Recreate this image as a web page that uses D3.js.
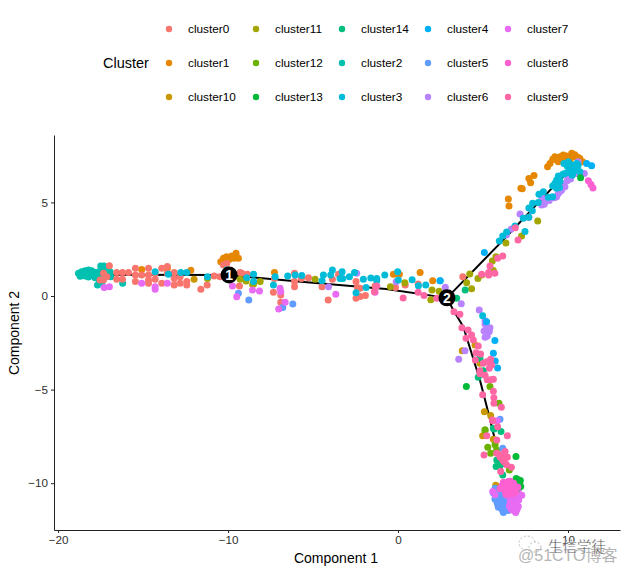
<!DOCTYPE html>
<html lang="en">
<head>
  <meta charset="UTF-8">
  <title>Cell trajectory</title>
  <style>
    body { margin: 0; background: #fff; }
    svg { display: block; font-family: "Liberation Sans", Arial, sans-serif; }
    .tick text { font-size: 11.7px; fill: #303030; font-family: "Liberation Sans", Arial, sans-serif; }
    .axis path, .axis line { stroke: #222; stroke-width: 1; }
  </style>
  <script src="https://d3js.org/d3.v7.min.js"></script>
</head>
<body>
  <svg width="627" height="573"></svg>
  <script>
    const clusterNames = ["cluster0", "cluster1", "cluster10", "cluster11", "cluster12", "cluster13", "cluster14", "cluster2", "cluster3", "cluster4", "cluster5", "cluster6", "cluster7", "cluster8", "cluster9"];
    const clusterColors = ["#F8766D", "#E58700", "#C99800", "#A3A500", "#6BB100", "#00BA38", "#00BF7D", "#00C0AF", "#00BCD8", "#00B0F6", "#619CFF", "#B983FF", "#E76BF3", "#FD61D1", "#FF67A4"];

    const xTicks = [-20, -10, 0, 10];
    const yTicks = [-10, -5, 0, 5];

    // in plot units
    const cluster0 = [[-16.98,1.62],[-16.55,1.25],[-16.55,0.89],[-16.21,1.25],[-16.21,0.89],[-15.86,1.25],[-15.45,1.48],[-15.45,1.12],[-15.45,0.77],[-15.08,1.12],[-14.68,1.48],[-14.68,1.12],[-14.68,0.85],[-14.29,1.21],[-14.29,0.89],[-13.9,1.48],[-13.9,0.68],[-13.57,1.57],[-13.57,1.21],[-13.17,1.25],[-13.17,0.94],[-13.17,0.59],[-12.82,1.03],[-12.82,0.68],[-12.43,0.77],[-12.43,0.59],[-14.68,0.68],[-11.6,0.36],[-11.23,0.59],[-10.82,1.07],[-10.47,1.03],[-10.27,1.66],[-10.08,1.74],[-9.29,1.25],[-9.33,0.53],[-17.33,1.21],[-17.53,0.85],[-17.33,0.85],[-17.13,1.03],[-9.19,1.21],[-8.86,1.16],[-7.27,0.94],[-7.33,0.2],[-6.9,0.05],[-6.9,-0.34],[-6.09,1.21],[-6.09,0.77],[-6.09,0.5],[-5.68,0.94],[-5.27,0.98],[-4.47,0.5],[-4.11,-0.21],[-3.86,0.89],[-3.5,1.16],[-2.47,0.77],[-2.39,0.46],[-2.23,0.41],[-2.47,-0.12],[-2.23,-0.03],[-1.92,0.02],[-1.35,0.53],[-0.15,0.46],[0.42,0.59],[1.18,0.64],[3.81,1.03]];
    const cluster1 = [[-15.08,1.42],[-13.57,1.48],[-12.19,1.37],[-10.43,1.83],[-10.27,2.01],[-10.08,2.1],[-9.78,2.14],[-9.53,2.28],[-9.39,2.01],[-9.65,2.01],[-9.92,1.96],[-10.17,1.83],[-7.27,1.26],[-0.27,1.16],[-0.07,1.19],[0.08,1.16],[1.3,1.26],[2.04,0.82],[8.0,6.43],[7.7,6.27],[7.8,6.05],[7.23,5.75],[7.31,5.73],[6.49,5.18],[6.53,4.81],[8.8,6.91],[8.94,7.08],[9.23,7.44],[9.33,7.26],[9.53,7.44],[9.72,7.53],[9.92,7.48],[10.22,7.62],[10.31,7.44],[10.51,7.44],[10.7,7.35],[10.86,7.17],[9.82,7.23],[10.12,7.26],[9.43,7.17],[9.65,7.35],[10.0,7.4],[10.4,7.55],[10.6,7.4],[9.1,7.3]];
    const cluster10 = [[-12,0.89],[3.78,-2.92],[4.53,-2.62],[4.82,-3.59],[5.08,-6.18],[5.45,-6.39],[4.98,-7.46],[5.61,-7.65],[5.75,-10.11]];
    const cluster11 = [[8.22,4.01],[7.27,3.21],[6.35,2.83],[5.76,2.1],[5.55,1.87],[5.61,1.36],[4.22,1.18],[4.04,0.71],[4.33,0.39],[4.7,0.93],[4.92,1.12],[-8.94,0.8],[-8.5,0.64],[-8.11,0.77],[-4.88,0.89],[-0.45,0.5],[0.4,0.71],[2.0,0.32],[2.42,0.25],[1.93,-0.2],[-11.21,0.94],[-9.29,0.89],[-8.55,0.62]];
    const cluster12 = [[5.41,-4.84],[5.94,-5.73],[5.12,-7.15],[5.12,-7.19],[5.28,-8.08],[5.45,-8.4],[5.71,-7.95],[5.8,-8.22],[6.55,-9.29],[7.1,-10.1]];
    const cluster13 = [[4.02,-4.84],[6.04,-8.54],[6.94,-8.58],[7.08,-9.82],[6.88,-9.97],[7.22,-10.18],[7.0,-10.3],[10.74,6.32],[6.95,-9.75],[7.15,-10.0],[7.2,-9.85]];
    const cluster14 = [[3.45,-0.12],[3.95,0.32],[4.72,-4.34],[5.02,-3.99],[4.82,-3.33],[5.61,-7.06],[5.65,-7.1],[6.06,-7.24],[5.81,-8.76],[5.77,-9.11],[6.04,-9.02],[6.16,-9.56]];
    const cluster2 = [[-18.8,1.21],[-18.61,1.3],[-18.61,1.09],[-18.41,1.35],[-18.41,1.07],[-18.21,1.39],[-18.21,1.21],[-18.21,1.01],[-18.02,1.35],[-18.02,1.1],[-17.82,1.26],[-17.82,0.98],[-17.68,0.59],[-17.49,1.6],[-17.43,1.39],[-17.1,1.48],[-16.94,1.3],[-16.9,1.03],[-17.43,0.68],[-16.2,0.68],[-18.7,1.05],[-18.5,1.2],[-18.3,1.1],[-18.1,1.25],[-17.9,1.15],[-17.7,1.1],[-17.6,1.3],[-17.3,1.6],[-17.25,1.45],[-17.6,0.9],[-17.35,1.1]];
    const cluster3 = [[9.33,6.2],[9.43,6.41],[9.23,6.02],[9.53,6.11],[9.1,5.87],[9.33,5.75],[9.76,7.08],[10.02,7.17],[10.22,7],[10.41,6.82],[10.6,7],[10.31,6.64],[10.7,6.64],[10.51,7.08],[10.12,6.73],[9.82,6.55],[9.1,5.3],[8.84,5.27],[8.55,5.57],[8.29,5.43],[8.25,5],[7.92,4.95],[7.7,4.7],[7.9,4.56],[7.69,4.2],[7.37,4.15],[6.88,3.74],[7.47,3.45],[6.39,3.42],[6.16,3.21],[5.96,2.94],[-8.9,0.98],[-8.5,1.16],[-8.5,0.77],[-7.23,1.03],[-7.33,0.59],[-6.49,1.07],[-6.05,1.12],[-5.66,1.09],[-4.39,1.12],[-4.47,0.82],[-3.96,1.12],[-3.86,1.39],[-3.41,0.94],[-3.29,1.3],[-3.25,0.94],[-2.86,1.03],[-2.56,1.26],[-2.47,0.18],[-2.04,0.89],[-1.88,0.46],[-1.6,0.96],[-1.25,0.94],[-1.25,0.82],[-0.78,1.12],[-0.02,1.3],[0.02,0.85],[0.83,0.87],[1.2,0.55],[1.63,0.59],[2.48,0.82],[-14.29,1.3],[-13.51,1.16],[-12.78,1.25],[-12.43,1.26],[-11.21,1.03],[-10.08,1.39],[4.98,-1.05],[9.5,6.35],[9.7,6.5],[9.95,6.6],[10.1,6.9],[10.3,6.85],[10.45,6.95],[9.95,6.95],[10.25,6.45],[10.55,6.75],[10.05,7.05],[9.3,5.95],[9.5,5.8]];
    const cluster4 = [[5.08,2.33],[2.47,0.82],[11.39,6.96],[11.1,7.08],[5.21,-1.37],[5.7,-2.38],[5.61,-3.06],[5.72,-3.47],[5.86,-3.84]];
    const cluster5 = [[5.71,-10.27],[5.61,-10.53],[5.81,-10.71],[6,-10.62],[6.2,-10.62],[5.81,-10.98],[6,-11.07],[6.2,-10.98],[5.9,-11.28],[6.1,-11.34],[6.3,-11.25],[6.2,-11.57],[6.49,-11.46],[6.39,-10.89],[6.16,-8.13],[6,-6.58],[-8.78,-0.21],[-6.78,-0.62],[-6.19,-0.43],[-9.39,0.14],[5.7,-10.45],[5.9,-10.55],[5.7,-10.85],[5.9,-10.85],[6.1,-10.8],[6.3,-11.05],[5.95,-11.15],[6.1,-11.15],[6.15,-11.45],[6.35,-11.4],[5.85,-11.1]];
    const cluster6 = [[4.78,-0.75],[5.12,-1.32],[5.12,-1.5],[5.41,-1.69],[5.21,-1.73],[5.06,-1.87],[5.37,-1.9],[5.25,-2.14],[5.12,-2.21],[3.72,-0.41],[3.57,-3.38],[3.94,-2.92],[7.18,4.38],[7.7,4.2],[6.65,3.56],[6.39,3.26],[2.78,0.47],[8.45,5.3],[8.65,5.04],[8.45,4.86],[9.43,5.48],[9.63,5.66],[9.82,5.84],[9.33,5.3],[10.96,6.55],[10.51,6.55],[10.02,6.37],[10.6,7.17],[-4.09,0.5],[-2.43,1.21],[-0.11,0.76],[9.55,5.6],[9.75,5.95],[9.95,6.15],[10.15,6.25],[8.9,5.1],[9.2,5.25],[8.6,4.9]];
    const cluster7 = [[6.88,-10.62],[7.18,-10.62],[6.79,-10.89],[6.98,-10.98],[6.69,-11.16],[6.88,-11.28],[7.08,-11.25],[6.69,-11.42],[6.92,-11.57],[7.28,-10.64],[5.57,-10.45],[5.71,-10.62],[5.84,-6.66],[-17.29,0.46],[-16.98,0.5],[-15.08,0.68],[-14.29,0.5],[-14.29,0.36],[-13.57,0.68],[-9.74,0.53],[-9.49,-0.04],[-8.56,0.32],[-8.15,0.27],[-6.94,0.41],[-6.9,0.23],[-6.64,-0.34],[-7.02,-0.69],[-3.66,0.09],[-1.35,0.2],[6.7,-10.7],[6.85,-10.8],[7.0,-10.7],[6.6,-11],[6.8,-11.1],[6.95,-11.15],[6.6,-11.3],[6.8,-11.45],[7.0,-11.4],[7.1,-10.9],[6.5,-10.7],[6.55,-11.2],[7.1,-10.3]];
    const cluster8 = [[6.49,-9.91],[6,-10.3],[6.43,-10.27],[6.73,-10.18],[6.3,-10.45],[6.59,-10.57],[6.94,-10.36],[11.2,6.16],[11.35,5.96],[11.47,5.77],[6.2,-9.95],[6.6,-9.9],[6.8,-10.0],[6.2,-10.2],[6.55,-10.15],[6.35,-10.6],[6.45,-10.4],[6.7,-10.4],[6.85,-10.55],[7.05,-10.2],[6.1,-10.15]];
    const cluster9 = [[3.29,-0.84],[3.64,-0.98],[3.76,-1.69],[4.12,-1.82],[4,-2.26],[4.33,-2.08],[4.43,-2.35],[4.72,-2.67],[4.59,-3.03],[4.86,-3.1],[4.55,-3.42],[5.02,-3.59],[5.21,-3.51],[5.45,-3.38],[5.51,-3.68],[5.37,-3.86],[4.82,-3.99],[4.82,-4.16],[5.12,-4.24],[5.25,-4.48],[5.61,-4.45],[5.45,-4.48],[5.61,-5.09],[4.98,-5.27],[5.64,-5.43],[5.64,-5.73],[6.08,-5.94],[5.55,-6.62],[5.86,-6.98],[5.57,-6.66],[5.22,-7.46],[5.81,-7.69],[6.43,-7.46],[5.06,-8.49],[5.81,-8.4],[6.3,-8.31],[6.3,-8.58],[6.43,-8.61],[6.16,-8.76],[6.39,-9.02],[6.67,-9.15],[6.04,-9.38],[1.18,0.2],[1.53,0.02],[2.28,-0.12],[-1.25,0.53],[-1.39,0.23],[0.3,-0.11],[6.9,3.65],[7.06,2.99],[6.16,2.14],[5.86,2.01],[5.41,1.6],[4.92,1.16],[5.33,1.25],[5.33,1.12],[5.7,1.21],[6.15,-8.45],[6.0,-8.6],[6.25,-8.85]];

    const clusterPoints = [cluster0, cluster1, cluster10, cluster11, cluster12, cluster13, cluster14, cluster2, cluster3, cluster4, cluster5, cluster6, cluster7, cluster8, cluster9];
    // the teal blob sits under the salmon points, so it goes first
    const drawOrder = [7, 1, 0, 2, 3, 4, 6, 11, 8, 9, 10, 12, 5, 13, 14];

    const trunkLine = [[-17, 1.14], [-9.94, 1.12], [-9.29, 1.05], [-5.36, 0.73], [-0.7, 0.37], [2.88, -0.1]];
    const upperLine = [[2.88, -0.1], [6.2, 3.0], [9.14, 5.84], [10.2, 6.8]];
    const lowerLine = [[2.88, -0.1], [3.25, -0.75], [3.84, -1.64], [4.82, -4.49], [5.37, -6.44], [5.61, -7.33], [6.2, -9.65]];
    const branchNodes = [[-9.94, 1.12, "1"], [2.88, -0.1, "2"]];

    const svg = d3.select("svg");
    const x = d3.scaleLinear().domain([-20.24, 13.06]).range([54, 620]);
    const y = d3.scaleLinear().domain([-12.5, 8.6]).range([530, 135]);

    svg.append("g").attr("class", "axis")
      .attr("transform", "translate(0,530)")
      .call(d3.axisBottom(x).tickValues(xTicks).tickSize(3).tickSizeOuter(0).tickPadding(3));
    svg.append("g").attr("class", "axis")
      .attr("transform", "translate(54,0)")
      .call(d3.axisLeft(y).tickValues(yTicks).tickSize(3).tickSizeOuter(0).tickPadding(3));

    svg.append("text").attr("x", 336).attr("y", 563).attr("text-anchor", "middle")
      .attr("font-size", 14).attr("fill", "#000").text("Component 1");
    svg.append("text").attr("transform", "translate(19,333) rotate(-90)").attr("text-anchor", "middle")
      .attr("font-size", 14).attr("fill", "#000").text("Component 2");

    // tree goes under the cells
    const line = d3.line().x(d => x(d[0])).y(d => y(d[1]));
    svg.selectAll("path.tree")
      .data([trunkLine, upperLine, lowerLine])
      .enter().append("path")
      .attr("class", "tree")
      .attr("d", line)
      .attr("fill", "none")
      .attr("stroke", "#000")
      .attr("stroke-width", 2);

    drawOrder.forEach(i => {
      svg.append("g").selectAll("circle")
        .data(clusterPoints[i])
        .enter().append("circle")
        .attr("cx", d => x(d[0]))
        .attr("cy", d => y(d[1]))
        .attr("r", 3.5)
        .attr("fill", clusterColors[i]);
    });

    const nodes = svg.selectAll("g.node").data(branchNodes).enter().append("g")
      .attr("class", "node")
      .attr("transform", d => `translate(${x(d[0])},${y(d[1])})`);
    nodes.append("circle").attr("r", 8.5).attr("fill", "#000");
    nodes.append("text").attr("text-anchor", "middle").attr("y", 5)
      .attr("font-size", 14).attr("font-weight", "bold").attr("fill", "#fff").text(d => d[2]);

    // legend, three rows filled column by column
    const legendCols = [169, 256, 342, 428, 508];
    const legendRows = [29, 63, 97];
    svg.append("text").attr("x", 103).attr("y", 68).attr("font-size", 14.5).attr("fill", "#000").text("Cluster");
    const legend = svg.selectAll("g.key").data(clusterNames).enter().append("g")
      .attr("class", "key")
      .attr("transform", (d, i) => `translate(${legendCols[Math.floor(i / 3)]},${legendRows[i % 3]})`);
    legend.append("circle").attr("r", 3.2).attr("fill", (d, i) => clusterColors[i]);
    legend.append("text").attr("x", 19).attr("y", 4.3).attr("font-size", 11.8).attr("fill", "#000").text(d => d);

    // watermark
    const mark = svg.append("g");
    mark.append("ellipse").attr("cx", 527).attr("cy", 543).attr("rx", 8).attr("ry", 7)
      .attr("fill", "#fff").attr("stroke", "#bbb").attr("stroke-dasharray", "2 2");
    mark.append("ellipse").attr("cx", 535).attr("cy", 547).attr("rx", 6).attr("ry", 5)
      .attr("fill", "#fff").attr("stroke", "#bbb").attr("stroke-dasharray", "2 2");
    mark.append("text").attr("x", 518).attr("y", 561).attr("font-size", 16).attr("fill", "#b5b5b5")
      .attr("font-family", "'Liberation Sans', 'Noto Sans CJK SC'").text("@51CTO博客");
    mark.append("text").attr("x", 548).attr("y", 552).attr("font-size", 14.5).attr("fill", "#222")
      .attr("stroke", "#fff").attr("stroke-width", 0.4)
      .attr("font-family", "'Noto Sans CJK SC'").text("生信学徒");
  </script>
</body>
</html>
